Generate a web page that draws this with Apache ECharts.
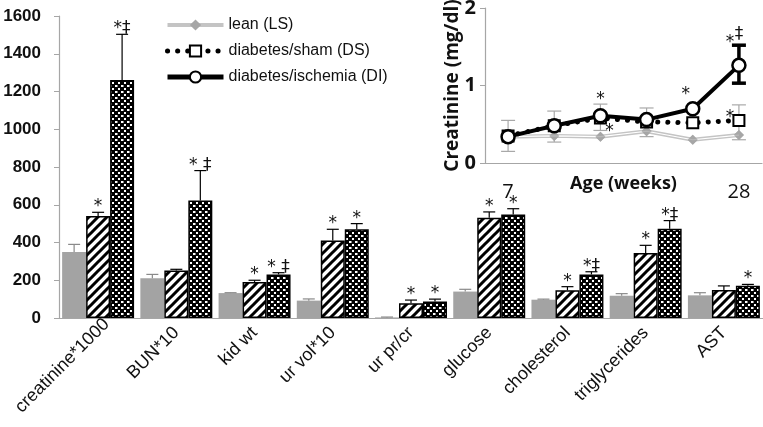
<!DOCTYPE html>
<html>
<head>
<meta charset="utf-8">
<script src="https://cdn.jsdelivr.net/npm/echarts@6/dist/echarts.min.js"></script>
<style>html,body{margin:0;padding:0;background:#fff}#c{width:763px;height:427px}</style>
</head>
<body>
<div id="c"></div>
<script>
// ---- main bar chart data ----
const categories = ['creatinine*1000','BUN*10','kid wt','ur vol*10','ur pr/cr','glucose','cholesterol','triglycerides','AST'];
const lsValues = [350, 210, 132, 92, 3, 140, 97, 118, 120];
const lsErrTop = [390, 231, 134, 101, 5, 152, 100, 129, 134];
const dsValues = [540, 251, 191, 410, 78, 531, 147, 344, 148];
const dsErrTop = [560, 258, 200, 470, 95, 562, 166, 385, 170];
const diValues = [1261, 622, 231, 470, 88, 549, 231, 473, 171];
const diErrTop = [1503, 781, 240, 500, 100, 579, 245, 516, 178];
const lsMarks = ['', '', '', '', '', '', '', '', ''];
const dsMarks = ['*', '', '*', '*', '*', '*', '*', '*', ''];
const diMarks = ['*\u2021', '* \u2021', '* \u2021', '*', '*', '*', '*\u2021', '*\u2021', '*'];
const yTicks = [0, 200, 400, 600, 800, 1000, 1200, 1400, 1600];

// ---- inset line chart data ----
const ageLabels = ['7', '', '', '', '', '28'];
const lsCr = [0.34, 0.35, 0.34, 0.41, 0.30, 0.36];
const dsCr = [0.35, 0.48, 0.58, 0.53, 0.52, 0.55];
const diCr = [0.34, 0.48, 0.61, 0.56, 0.70, 1.26];
const errIdx = [0, 1, 2, 3, 5, 5];
const errLow = [0.15, 0.27, 0.42, 0.34, 0.30, 1.03];
const errHigh = [0.55, 0.67, 0.76, 0.71, 0.75, 1.52];
const errDark = [0, 0, 0, 0, 0, 1];
const starIdx = [2, 2, 4, 5, 5, 5];
const starVal = [0.82, 0.40, 0.88, 0.59, 1.56, 1.66];
const starText = ['*', '*', '*', '*', '*', '\u2021'];
const starDx = [0, 9, -7, -9, -9, 0];

// ---- patterns ----
function hatch() {
  const s = 9, c = document.createElement('canvas');
  c.width = s; c.height = s;
  const g = c.getContext('2d');
  g.fillStyle = '#fff'; g.fillRect(0, 0, s, s);
  g.strokeStyle = '#000'; g.lineWidth = 3;
  g.beginPath();
  g.moveTo(-2, s + 2); g.lineTo(s + 2, -2);
  g.moveTo(-2, 2); g.lineTo(2, -2);
  g.moveTo(s - 2, s + 2); g.lineTo(s + 2, s - 2);
  g.stroke();
  return c;
}
function checks() {
  const s = 6, c = document.createElement('canvas');
  c.width = s; c.height = s;
  const g = c.getContext('2d');
  g.fillStyle = '#000'; g.fillRect(0, 0, s, s);
  g.fillStyle = '#fff';
  g.fillRect(1, 1, 2.5, 2);
  g.fillRect(4, 4, 2.5, 2);
  return c;
}
const hatchPat = { image: hatch(), repeat: 'repeat' };
const checkPat = { image: checks(), repeat: 'repeat' };

const GAP = 0.08;
const markFont = '17px "DejaVu Sans", "Liberation Sans", Arial';
function errSeries(pos, vals, tops, marks, color) {
  return {
    type: 'custom', xAxisIndex: 0, yAxisIndex: 0, z: 5, silent: true,
    data: vals.map((v, i) => [i, tops[i], v]),
    renderItem: function (params, api) {
      const i = api.value(0), top = api.value(1), base = api.value(2);
      const p0 = api.coord([i, base]), p1 = api.coord([i, top]);
      const band = api.size([1, 0])[0];
      const bw = band * (1 - GAP) / 3;
      const x = p0[0] + (pos - 1) * bw;
      const cap = 6;
      const children = [
        { type: 'line', shape: { x1: x, y1: p0[1], x2: x, y2: p1[1] }, style: { stroke: color, lineWidth: 1.2 } },
        { type: 'line', shape: { x1: x - cap, y1: p1[1], x2: x + cap, y2: p1[1] }, style: { stroke: color, lineWidth: 1.2 } }
      ];
      const t = marks[params.dataIndex];
      if (t) children.push({ type: 'text', x: x, y: p1[1] + 3, style: { text: t, fill: '#111', font: markFont, align: 'center', verticalAlign: 'bottom' } });
      return { type: 'group', children: children };
    }
  };
}

const xCatData = categories.map((c, i) => i === 0 ? { value: c, textStyle: { padding: [0, -12, 0, 0] } } : c);

const chart = echarts.init(document.getElementById('c'));
const option = {
  backgroundColor: '#fff',
  animation: false,
  legend: {
    orient: 'vertical', left: 160, top: 12, itemWidth: 56, itemHeight: 14, itemGap: 10,
    textStyle: { fontSize: 16, color: '#111', fontFamily: '"Liberation Sans", Arial' },
    data: [
      { name: 'lean (LS)', lineStyle: { color: '#c4c4c4', width: 4 } },
      { name: 'diabetes/sham (DS)', lineStyle: { color: '#000', width: 5, type: [0.1, 10], cap: 'round' } },
      { name: 'diabetes/ischemia (DI)', lineStyle: { color: '#000', width: 5 } }
    ]
  },
  grid: [
    { left: 59, top: 16, width: 704, height: 302, outerBoundsMode: 'none', containLabel: false },
    { left: 485, top: 8, width: 277, height: 155, outerBoundsMode: 'none', containLabel: false }
  ],
  xAxis: [
    {
      type: 'category', gridIndex: 0, data: xCatData,
      axisLine: { lineStyle: { color: '#a6a6a6', width: 1.2 } },
      axisTick: { length: 5, lineStyle: { color: '#a6a6a6' } },
      axisLabel: { rotate: 45, interval: 0, fontSize: 18, color: '#111', margin: 12, fontFamily: '"Liberation Sans", Arial' }
    },
    {
      type: 'category', gridIndex: 1, data: ageLabels,
      axisLine: { lineStyle: { color: '#a6a6a6', width: 1.2 } },
      axisTick: { length: 8, lineStyle: { color: '#888' } },
      axisLabel: { interval: 0, fontSize: 20, color: '#111', margin: 19, fontFamily: '"Open Sans"' },
      name: 'Age (weeks)', nameLocation: 'middle', nameGap: 12, nameMoveOverlap: false,
      nameTextStyle: { fontSize: 18, fontWeight: 'bold', color: '#111', fontFamily: '"Open Sans"' }
    }
  ],
  yAxis: [
    {
      type: 'value', gridIndex: 0, min: yTicks[0], max: yTicks[yTicks.length - 1], interval: 200,
      splitLine: { show: false },
      axisLine: { show: true, lineStyle: { color: '#a6a6a6', width: 1.2 } },
      axisTick: { show: true, length: 5, lineStyle: { color: '#a6a6a6' } },
      axisLabel: { fontSize: 17, fontWeight: 'bold', color: '#111', margin: 18, fontFamily: '"Liberation Sans", Arial',
        formatter: function (v) { return String(v); } }
    },
    {
      type: 'value', gridIndex: 1, min: 0, max: 2, interval: 1,
      splitLine: { show: false },
      axisLine: { show: true, lineStyle: { color: '#a6a6a6', width: 1.2 } },
      axisTick: { show: true, length: 5, lineStyle: { color: '#a6a6a6' } },
      axisLabel: { fontSize: 20, fontWeight: 'bold', color: '#111', margin: 9, fontFamily: '"Open Sans"' },
      name: 'Creatinine (mg/dl)', nameLocation: 'middle', nameGap: 23, nameRotate: 90, nameMoveOverlap: false,
      nameTextStyle: { fontSize: 19, fontWeight: 'bold', color: '#111', fontFamily: '"Open Sans"' }
    }
  ],
  series: [
    { type: 'bar', name: 'LS bars', xAxisIndex: 0, yAxisIndex: 0, data: lsValues, barGap: '0%', barCategoryGap: (GAP * 100) + '%',
      itemStyle: { color: '#a3a3a3' } },
    { type: 'bar', name: 'DS bars', xAxisIndex: 0, yAxisIndex: 0, data: dsValues,
      itemStyle: { color: hatchPat, borderColor: '#000', borderWidth: 1.5 } },
    { type: 'bar', name: 'DI bars', xAxisIndex: 0, yAxisIndex: 0, data: diValues,
      itemStyle: { color: checkPat, borderColor: '#000', borderWidth: 1.5 } },
    errSeries(0, lsValues, lsErrTop, lsMarks, '#8a8a8a'),
    errSeries(1, dsValues, dsErrTop, dsMarks, '#000'),
    errSeries(2, diValues, diErrTop, diMarks, '#000'),
    // inset error bars
    {
      type: 'custom', xAxisIndex: 1, yAxisIndex: 1, z: 1, silent: true,
      data: errIdx.map((x, k) => [x, errLow[k], errHigh[k], errDark[k]]),
      renderItem: function (params, api) {
        const a = api.coord([api.value(0), api.value(1)]);
        const b = api.coord([api.value(0), api.value(2)]);
        const dark = api.value(3) === 1;
        const col = dark ? '#000' : '#a8a8a8';
        const w = dark ? 3.5 : 1.2;
        const cap = 7;
        return { type: 'group', children: [
          { type: 'line', shape: { x1: a[0], y1: a[1], x2: b[0], y2: b[1] }, style: { stroke: col, lineWidth: w } },
          { type: 'line', shape: { x1: a[0] - cap, y1: a[1], x2: a[0] + cap, y2: a[1] }, style: { stroke: col, lineWidth: w } },
          { type: 'line', shape: { x1: b[0] - cap, y1: b[1], x2: b[0] + cap, y2: b[1] }, style: { stroke: col, lineWidth: w } }
        ] };
      }
    },
    // inset lines
    { type: 'line', name: 'lean (LS)', xAxisIndex: 1, yAxisIndex: 1, data: lsCr, z: 2,
      symbol: 'diamond', symbolSize: 10, itemStyle: { color: '#a6a6a6' },
      lineStyle: { color: '#c4c4c4', width: 4 } },
    { type: 'line', xAxisIndex: 1, yAxisIndex: 1, data: lsCr, z: 3, silent: true, symbol: 'none',
      lineStyle: { color: '#fff', width: 1.2 } },
    { type: 'scatter', xAxisIndex: 1, yAxisIndex: 1, data: lsCr, z: 4, silent: true,
      symbol: 'diamond', symbolSize: 10, itemStyle: { color: '#a6a6a6' } },
    { type: 'line', name: 'diabetes/sham (DS)', xAxisIndex: 1, yAxisIndex: 1, data: dsCr, z: 5,
      symbol: 'rect', symbolSize: 11, itemStyle: { color: '#fff', borderColor: '#000', borderWidth: 2 },
      lineStyle: { color: '#000', width: 5, type: [0.1, 10], cap: 'round' } },
    { type: 'line', name: 'diabetes/ischemia (DI)', xAxisIndex: 1, yAxisIndex: 1, data: diCr, z: 6,
      symbol: 'circle', symbolSize: 13, itemStyle: { color: '#fff', borderColor: '#000', borderWidth: 2.5 },
      lineStyle: { color: '#000', width: 4 } },
    // inset significance marks
    {
      type: 'custom', xAxisIndex: 1, yAxisIndex: 1, z: 7, silent: true,
      data: starIdx.map((x, k) => [x, starVal[k]]),
      renderItem: function (params, api) {
        const p = api.coord([api.value(0), api.value(1)]);
        const k = params.dataIndex;
        return { type: 'text', x: p[0] + starDx[k], y: p[1], style: { text: starText[k], fill: '#111', font: markFont, align: 'center', verticalAlign: 'middle' } };
      }
    }
  ]
};
chart.setOption(option);
</script>
</body>
</html>
